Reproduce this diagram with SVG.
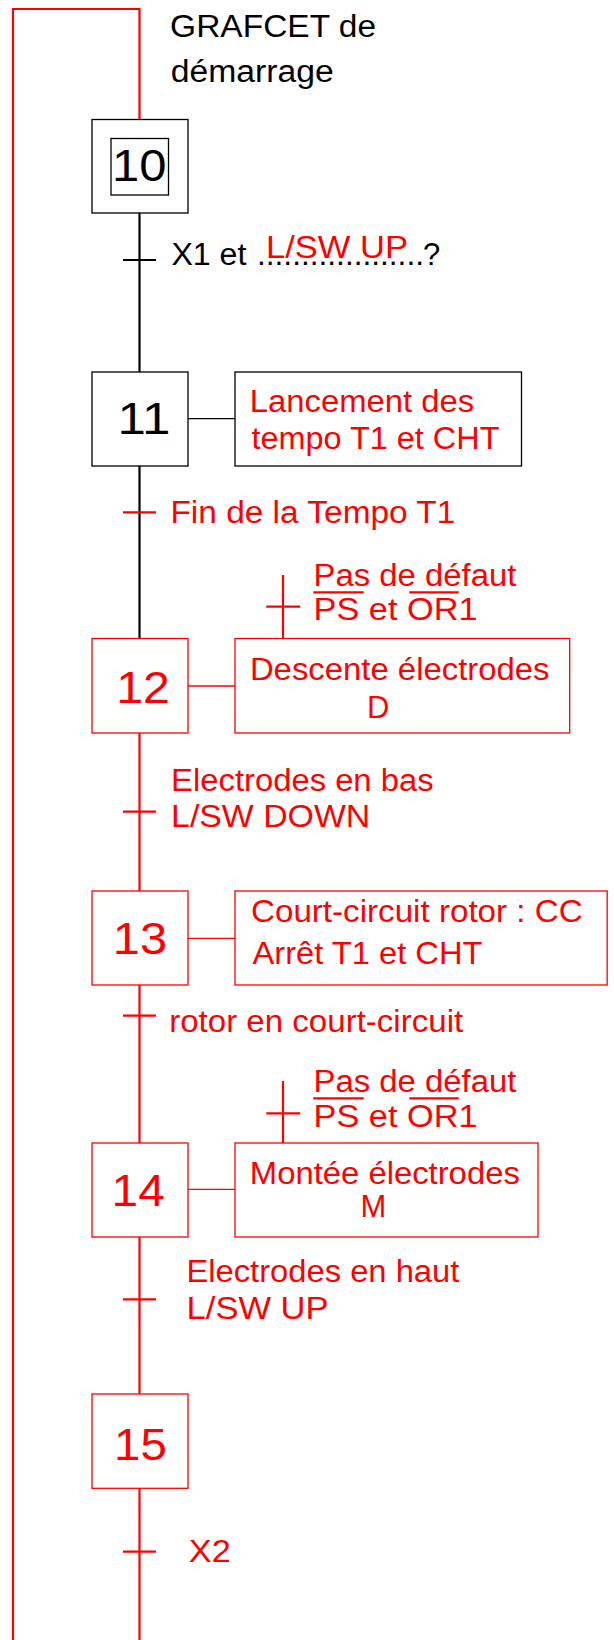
<svg xmlns="http://www.w3.org/2000/svg" width="614" height="1640" viewBox="0 0 614 1640">
<style>
text{font-family:"Liberation Sans",Arial,sans-serif;font-size:31px}
.k{fill:#000}
.r{fill:#ff0000}
.num{font-size:44px}
.bk{fill:none;stroke:#000;stroke-width:1.3}
.br{fill:none;stroke:#ff0000;stroke-width:1.3}
.lk{stroke:#000;stroke-width:2.2;fill:none}
.lr{stroke:#ff0000;stroke-width:2.2;fill:none}
.thin{stroke-width:1.3}
</style>
<rect width="614" height="1640" fill="#fff"/>
<g id="connectors">
<polyline class="lr" points="13,1640 13,9 139.5,9 139.5,120" stroke-width="2.6"/>
<line class="lk" x1="139.5" y1="213" x2="139.5" y2="372"/>
<line class="lk" x1="123" y1="260" x2="156" y2="260"/>
<line class="lk" x1="139.5" y1="466" x2="139.5" y2="638.5"/>
<line class="lr" x1="123" y1="512.3" x2="156" y2="512.3"/>
<line class="lr" x1="139.5" y1="733" x2="139.5" y2="891"/>
<line class="lr" x1="123" y1="811.7" x2="156" y2="811.7"/>
<line class="lr" x1="139.5" y1="985" x2="139.5" y2="1143"/>
<line class="lr" x1="123" y1="1015.7" x2="156" y2="1015.7"/>
<line class="lr" x1="139.5" y1="1237" x2="139.5" y2="1394"/>
<line class="lr" x1="123" y1="1299.3" x2="156" y2="1299.3"/>
<line class="lr" x1="139.5" y1="1488" x2="139.5" y2="1640"/>
<line class="lr" x1="123" y1="1551.7" x2="156" y2="1551.7"/>
<line class="lk thin" x1="188" y1="418.7" x2="235" y2="418.7"/>
<line class="lr thin" x1="188" y1="686" x2="235" y2="686"/>
<line class="lr thin" x1="188" y1="938.3" x2="235" y2="938.3"/>
<line class="lr thin" x1="188" y1="1189.3" x2="235" y2="1189.3"/>
<line class="lr" x1="283" y1="575" x2="283" y2="638.5"/>
<line class="lr" x1="266.3" y1="606.7" x2="300.3" y2="606.7"/>
<line class="lr" x1="283" y1="1081" x2="283" y2="1143"/>
<line class="lr" x1="266.3" y1="1113.3" x2="300.3" y2="1113.3"/>
</g>
<g id="title">
<text class="k" x="170.1" y="37" textLength="206" lengthAdjust="spacingAndGlyphs">GRAFCET de</text>
<text class="k" x="170.8" y="82" textLength="163" lengthAdjust="spacingAndGlyphs">démarrage</text>
</g>
<g id="step10">
<rect class="bk" x="92" y="119.5" width="96" height="93.5"/>
<rect class="bk" x="111" y="138.5" width="57.5" height="56.5"/>
<text class="k num" x="112" y="181" textLength="54.4" lengthAdjust="spacingAndGlyphs">10</text>
</g>
<g id="t10-11">
<text class="k" x="171.4" y="265" textLength="75" lengthAdjust="spacingAndGlyphs">X1 et</text>
<text class="k" x="257" y="265" textLength="167" lengthAdjust="spacingAndGlyphs">...................</text>
<text class="k" x="423" y="265">?</text>
<text class="r" x="266" y="258.3" textLength="142" lengthAdjust="spacingAndGlyphs">L/SW UP</text>
</g>
<g id="step11">
<rect class="bk" x="92" y="372" width="96" height="94"/>
<text class="k num" x="117.4" y="434.3" textLength="53" lengthAdjust="spacingAndGlyphs">11</text>
</g>
<g id="action11">
<rect class="bk" x="235" y="372" width="286.5" height="94"/>
<text class="r" x="249.8" y="411.7" textLength="224.5" lengthAdjust="spacingAndGlyphs">Lancement des</text>
<text class="r" x="251.5" y="449" textLength="248" lengthAdjust="spacingAndGlyphs">tempo T1 et CHT</text>
</g>
<g id="t11-12">
<text class="r" x="170.4" y="523" textLength="285" lengthAdjust="spacingAndGlyphs">Fin de la Tempo T1</text>
</g>
<g id="step12">
<rect class="br" x="92" y="638.5" width="96" height="94.5"/>
<text class="r num" x="116.2" y="702.7" textLength="53.8" lengthAdjust="spacingAndGlyphs">12</text>
</g>
<g id="cond12">
<text class="r" x="313.5" y="586" textLength="203" lengthAdjust="spacingAndGlyphs">Pas de défaut</text>
<text class="r" x="313.5" y="620" textLength="164" lengthAdjust="spacingAndGlyphs">PS et OR1</text>
<line class="lr" x1="313.3" y1="592.3" x2="363.7" y2="592.3"/>
<line class="lr" x1="409.3" y1="592.3" x2="458.7" y2="592.3"/>
</g>
<g id="action12">
<rect class="br" x="235" y="638.5" width="334.7" height="94.5"/>
<text class="r" x="249.9" y="680" textLength="299.6" lengthAdjust="spacingAndGlyphs">Descente électrodes</text>
<text class="r" x="367" y="718.3">D</text>
</g>
<g id="t12-13">
<text class="r" x="171.1" y="790.7" textLength="262.5" lengthAdjust="spacingAndGlyphs">Electrodes en bas</text>
<text class="r" x="171.1" y="827.3" textLength="199.2" lengthAdjust="spacingAndGlyphs">L/SW DOWN</text>
</g>
<g id="step13">
<rect class="br" x="92" y="891" width="96" height="94"/>
<text class="r num" x="112.8" y="954" textLength="54.3" lengthAdjust="spacingAndGlyphs">13</text>
</g>
<g id="action13">
<rect class="br" x="235" y="891" width="372.2" height="94"/>
<text class="r" x="251" y="922.3" textLength="331.6" lengthAdjust="spacingAndGlyphs">Court-circuit rotor : CC</text>
<text class="r" x="252.5" y="964.3" textLength="230" lengthAdjust="spacingAndGlyphs">Arrêt T1 et CHT</text>
</g>
<g id="t13-14">
<text class="r" x="169.2" y="1031.7" textLength="294" lengthAdjust="spacingAndGlyphs">rotor en court-circuit</text>
</g>
<g id="cond14">
<text class="r" x="313.5" y="1092.3" textLength="203" lengthAdjust="spacingAndGlyphs">Pas de défaut</text>
<text class="r" x="313.5" y="1127.3" textLength="164" lengthAdjust="spacingAndGlyphs">PS et OR1</text>
<line class="lr" x1="313.3" y1="1098.3" x2="363.7" y2="1098.3"/>
<line class="lr" x1="409.3" y1="1098.3" x2="458.7" y2="1098.3"/>
</g>
<g id="step14">
<rect class="br" x="92" y="1143" width="96" height="94"/>
<text class="r num" x="111.6" y="1205.7" textLength="53.2" lengthAdjust="spacingAndGlyphs">14</text>
</g>
<g id="action14">
<rect class="br" x="235" y="1143" width="303" height="94"/>
<text class="r" x="249.8" y="1184" textLength="270" lengthAdjust="spacingAndGlyphs">Montée électrodes</text>
<text class="r" x="360.6" y="1216.7">M</text>
</g>
<g id="t14-15">
<text class="r" x="186.4" y="1281.7" textLength="273" lengthAdjust="spacingAndGlyphs">Electrodes en haut</text>
<text class="r" x="186.6" y="1319" textLength="142" lengthAdjust="spacingAndGlyphs">L/SW UP</text>
</g>
<g id="step15">
<rect class="br" x="92" y="1394" width="96" height="94.3"/>
<text class="r num" x="114.1" y="1460" textLength="52.8" lengthAdjust="spacingAndGlyphs">15</text>
</g>
<g id="t15">
<text class="r" x="188.8" y="1561.7" textLength="42" lengthAdjust="spacingAndGlyphs">X2</text>
</g>
</svg>
